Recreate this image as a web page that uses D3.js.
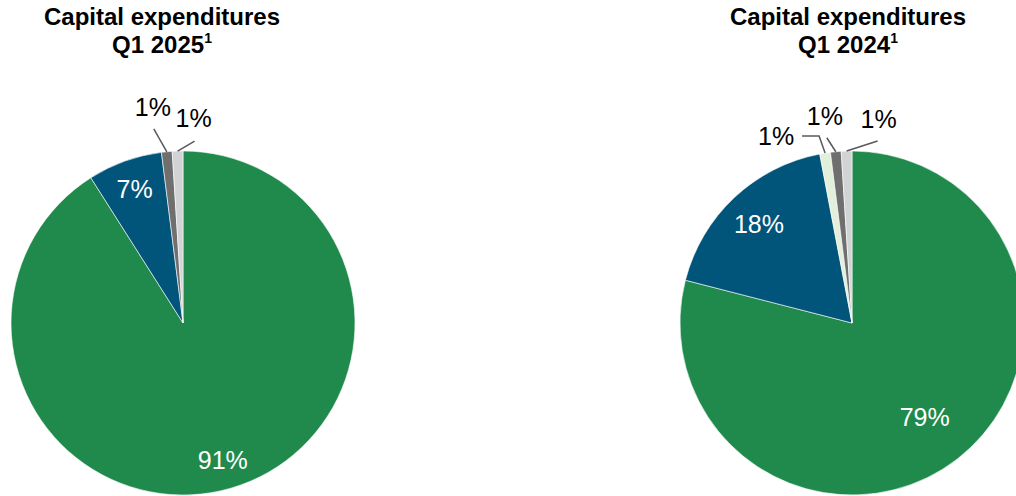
<!DOCTYPE html>
<html>
<head>
<meta charset="utf-8">
<script src="https://cdn.jsdelivr.net/npm/d3@7"></script>
<style>
  body { margin: 0; background: #fff; overflow: hidden; }
  svg { display: block; font-family: "Liberation Sans", Arial, Helvetica, sans-serif; }
</style>
</head>
<body>
<script>
// data
const categories2025 = ['A', 'B', 'C', 'D']
const values2025 = [91, 7, 1, 1]
const categories2024 = ['A', 'B', 'E', 'C', 'D']
const values2024 = [79, 18, 1, 1, 1]
const titles = ['Q1 2025', 'Q1 2024']

const colors = { A: '#1f8a4c', B: '#02557a', E: '#e2efda', C: '#6f6f6f', D: '#d1d3d4' }

const width = 1016, height = 496
const R = 172

const svg = d3.select('body').append('svg').attr('width', width).attr('height', height)

// layout per chart: inside label radius (fraction) or outside label offsets from the rim point
const charts = [
  {
    cats: categories2025, vals: values2025, title: titles[0], cx: 183, cy: 323, tx: 162,
    labels: [
      { r: 0.83 }, { r: 0.83 },
      { line: [[-13, -23]], text: [-14, -45] },
      { line: [[17, -10]], text: [16, -33] }
    ]
  },
  {
    cats: categories2024, vals: values2024, title: titles[1], cx: 852, cy: 323, tx: 848,
    labels: [
      { r: 0.69 }, { r: 0.79 },
      { line: [[-6, -17], [-23, -17]], text: [-49, -17] },
      { line: [[-9, -14]], text: [-11, -36] },
      { line: [[31, -10]], text: [32, -32] }
    ]
  }
]

const pie = d3.pie().sort(null).value(d => d.v)
const arc = d3.arc().innerRadius(0).outerRadius(R)

charts.forEach(c => {
  const data = c.cats.map((k, i) => ({ k, v: c.vals[i] }))
  const arcs = pie(data)
  const g = svg.append('g').attr('transform', `translate(${c.cx},${c.cy})`)

  g.selectAll('path.slice').data(arcs).join('path')
    .attr('class', 'slice')
    .attr('d', arc)
    .attr('fill', d => colors[d.data.k])
    .attr('stroke', '#fff')
    .attr('stroke-width', 0.6)

  arcs.forEach((a, i) => {
    const L = c.labels[i]
    const mid = (a.startAngle + a.endAngle) / 2
    const px = r => Math.sin(mid) * r, py = r => -Math.cos(mid) * r
    const txt = a.data.v + '%'
    if (L.r) {
      g.append('text')
        .attr('x', px(R * L.r)).attr('y', py(R * L.r))
        .attr('text-anchor', 'middle').attr('dy', '0.36em')
        .attr('font-size', 25).attr('fill', '#fff')
        .text(txt)
    } else {
      const ax = px(R), ay = py(R)
      const pts = [[ax, ay]].concat(L.line.map(o => [ax + o[0], ay + o[1]]))
      g.append('path')
        .attr('d', d3.line()(pts))
        .attr('fill', 'none').attr('stroke', '#595959').attr('stroke-width', 1.5)
      g.append('text')
        .attr('x', ax + L.text[0]).attr('y', ay + L.text[1])
        .attr('text-anchor', 'middle').attr('dy', '0.36em')
        .attr('font-size', 25).attr('fill', '#000')
        .text(txt)
    }
  })

  const t = svg.append('text').attr('text-anchor', 'middle')
    .attr('font-size', 24).attr('font-weight', 'bold').attr('fill', '#000')
  t.append('tspan').attr('x', c.tx).attr('y', 25).text('Capital expenditures')
  const t2 = t.append('tspan').attr('x', c.tx).attr('y', 53)
  t2.append('tspan').text(c.title)
  t2.append('tspan').attr('font-size', 14).attr('dy', -10).text('1')
})
</script>
</body>
</html>
